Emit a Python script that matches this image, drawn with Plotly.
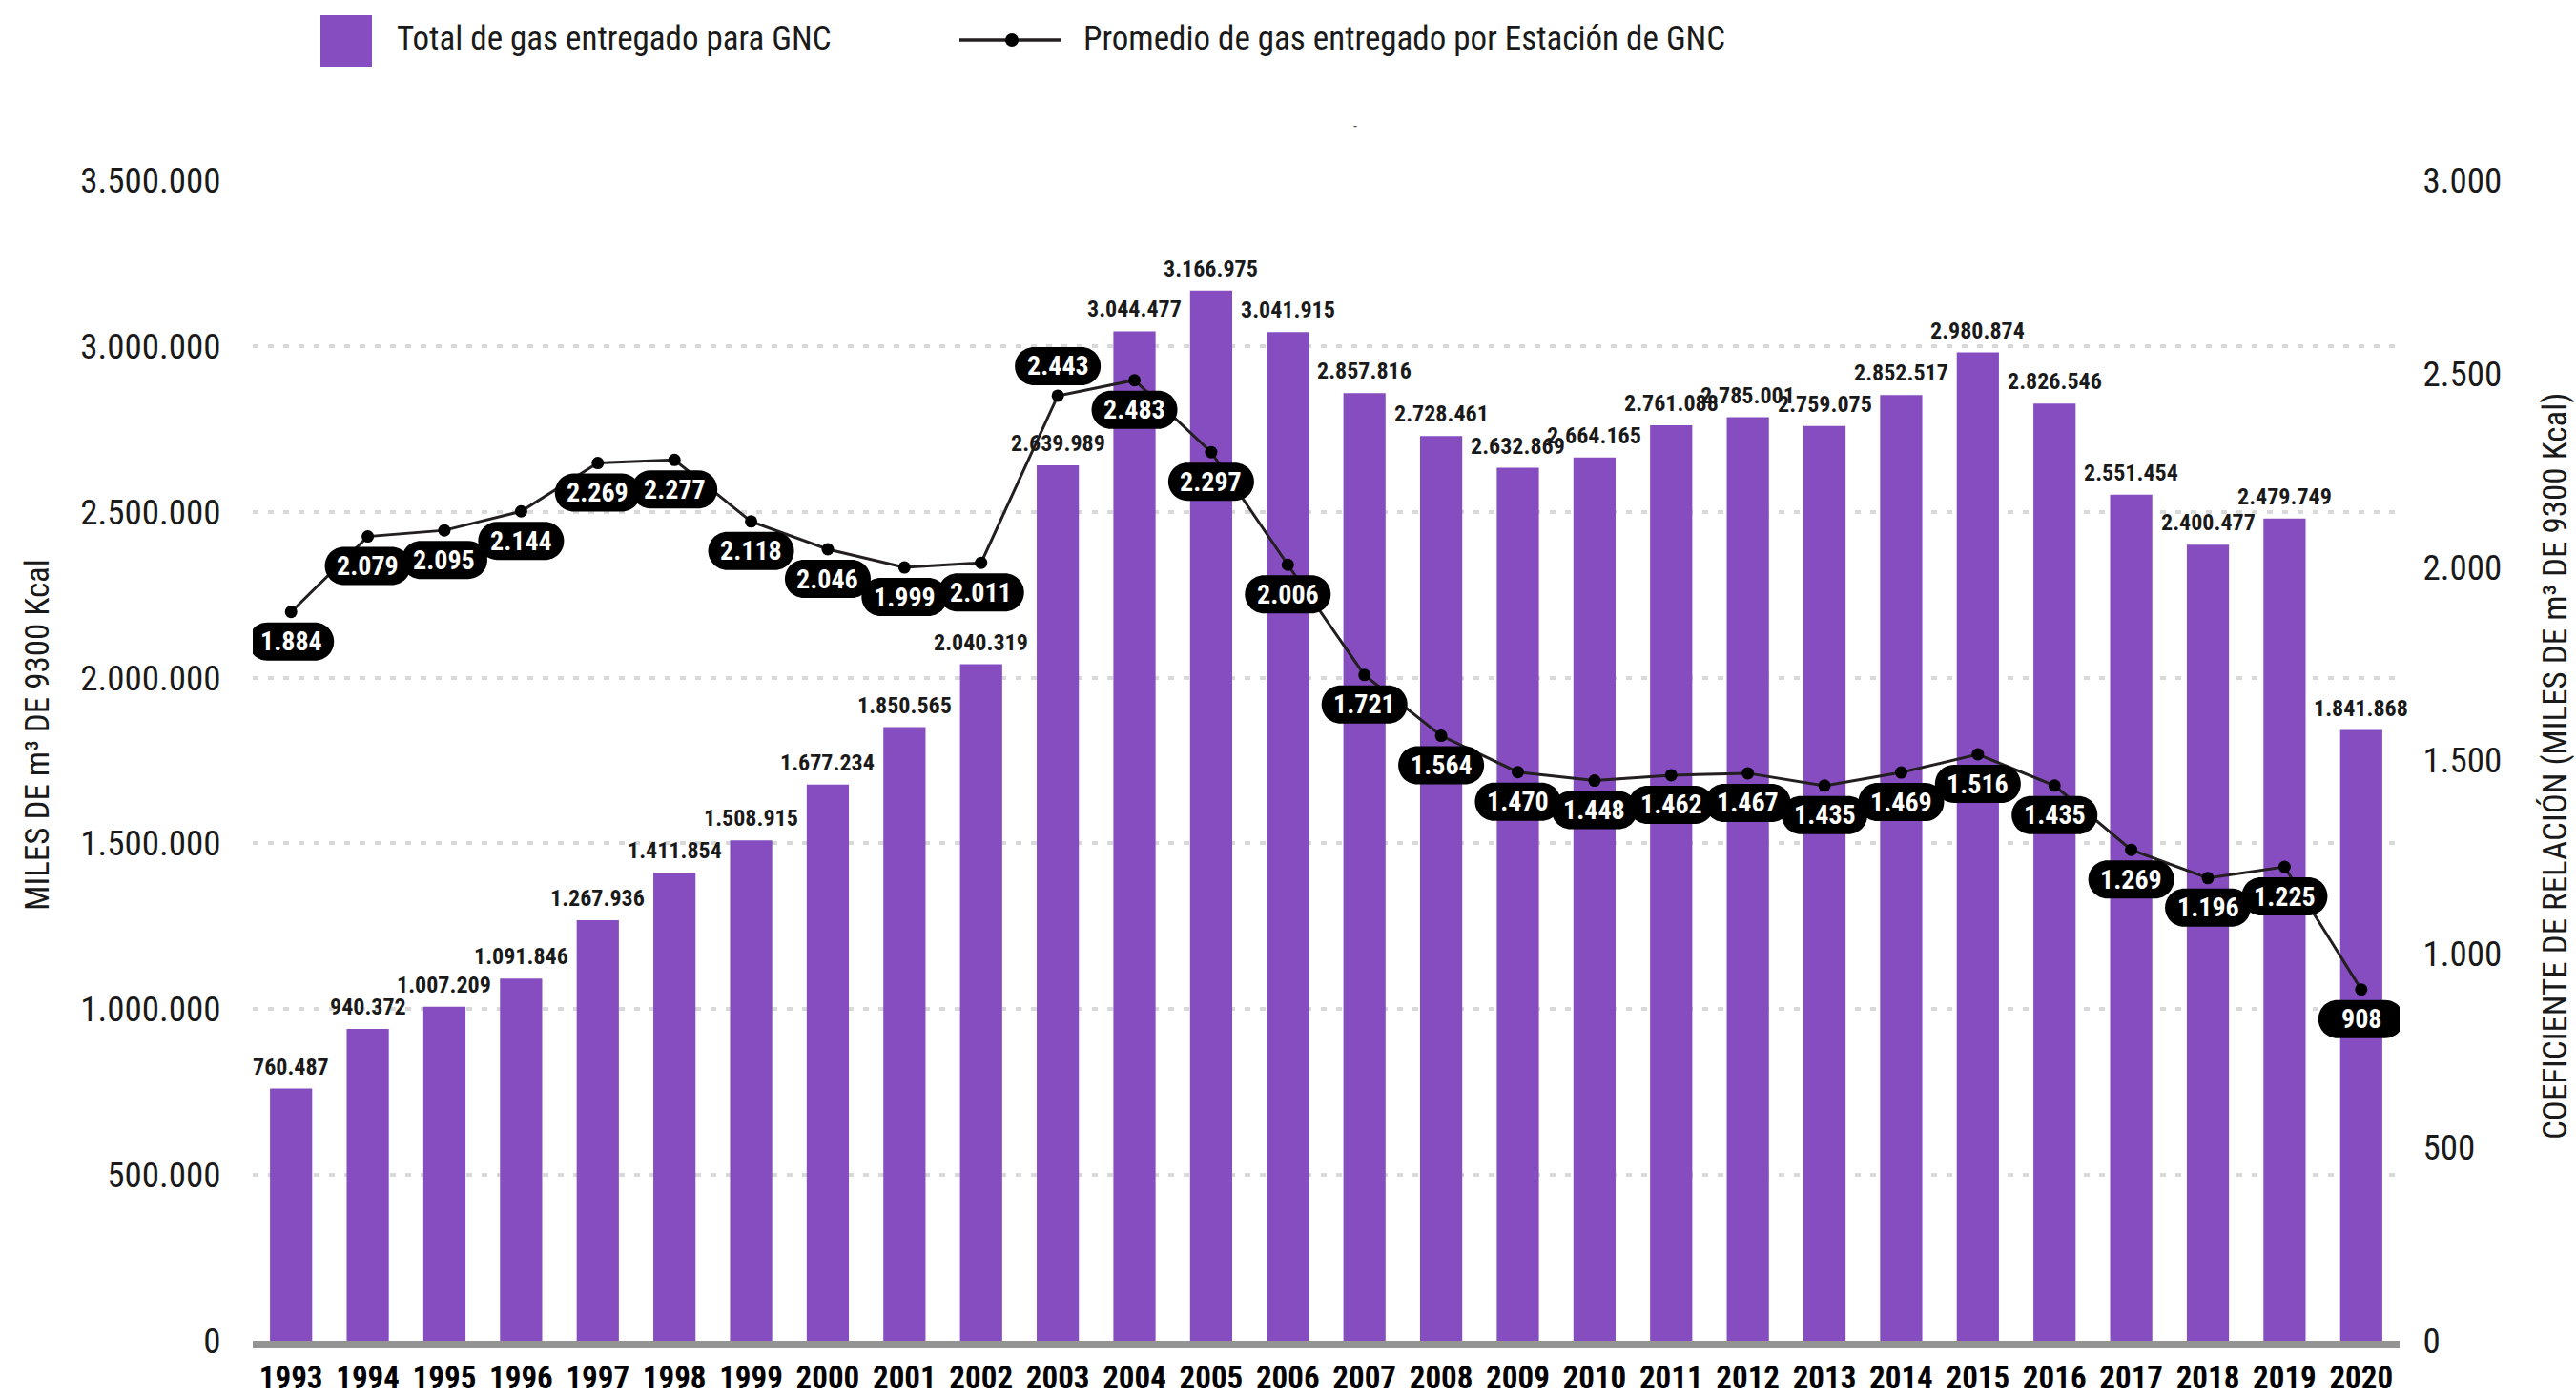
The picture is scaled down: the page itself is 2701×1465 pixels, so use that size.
import plotly.graph_objects as go

# ---------------- data ----------------
years = list(range(1993, 2021))
total_gas = [760487, 940372, 1007209, 1091846, 1267936, 1411854, 1508915, 1677234,
             1850565, 2040319, 2639989, 3044477, 3166975, 3041915, 2857816, 2728461,
             2632869, 2664165, 2761088, 2785001, 2759075, 2852517, 2980874, 2826546,
             2551454, 2400477, 2479749, 1841868]
avg_gas = [1884, 2079, 2095, 2144, 2269, 2277, 2118, 2046, 1999, 2011, 2443, 2483,
           2297, 2006, 1721, 1564, 1470, 1448, 1462, 1467, 1435, 1469, 1516, 1435,
           1269, 1196, 1225, 908]
left_ticks = [0, 500000, 1000000, 1500000, 2000000, 2500000, 3000000, 3500000]
right_ticks = [0, 500, 1000, 1500, 2000, 2500, 3000]
series_names = ["Total de gas entregado para GNC",
                "Promedio de gas entregado por Estación de GNC"]
left_title = "MILES DE m³ DE 9300 Kcal"
right_title = "COEFICIENTE DE RELACIÓN (MILES DE m³ DE 9300 Kcal)"

# ---------------- style ----------------
W, H = 2701, 1465
ML, MR, MT, MB = 265, 185, 189, 59
PW, PH = W - ML - MR, H - MT - MB
PURPLE = "#864dc1"
LINE = "#231f20"
COND = "Roboto, sans-serif"   # rendered condensed via font-stretch (see post script)
TXT = "#1a1a1a"
label_side = [-1] * len(years)
label_side[years.index(2003)] = 1
PILL_W, PILL_H, PILL_OFF = 90, 40, 31


def fmt(v):
    return f"{v:,}".replace(",", ".")


def px_x(x):
    return (x - ML) / PW


def px_y(y):
    return (H - MB - y) / PH


def pill_path(cy, w=PILL_W, h=PILL_H):
    r = h / 2
    k = 0.5523 * r
    l, rt = -w / 2, w / 2
    top, bot = cy + r, cy - r
    p = [
        f"M{l + r},{top}", f"L{rt - r},{top}",
        f"C{rt - r + k},{top} {rt},{cy + k} {rt},{cy}",
        f"C{rt},{cy - k} {rt - r + k},{bot} {rt - r},{bot}",
        f"L{l + r},{bot}",
        f"C{l + r - k},{bot} {l},{cy - k} {l},{cy}",
        f"C{l},{cy + k} {l + r - k},{top} {l + r},{top}", "Z",
    ]
    return " ".join(p)


fig = go.Figure()
fig.add_trace(go.Bar(x=years, y=total_gas, name=series_names[0], marker_color=PURPLE,
                     marker_line_width=0, width=0.55, showlegend=False))
fig.add_trace(go.Scatter(x=years, y=avg_gas, name=series_names[1], yaxis="y2",
                         mode="lines+markers", line=dict(color=LINE, width=3),
                         marker=dict(size=13, color="#000"), showlegend=False))

shapes = []
annotations = []

for x, v in zip(years, total_gas):
    annotations.append(dict(x=x, y=v, xref="x", yref="y", text=fmt(v), showarrow=False,
                            yanchor="middle", yshift=23,
                            font=dict(family=COND, size=24, color=TXT, weight=700)))

for x, v, s in zip(years, avg_gas, label_side):
    shapes.append(dict(type="path", xref="x", yref="y2", xsizemode="pixel", ysizemode="pixel",
                       xanchor=x, yanchor=v, path=pill_path(s * PILL_OFF),
                       fillcolor="#000", line=dict(width=0), layer="above"))
    annotations.append(dict(x=x, y=v, xref="x", yref="y2", text=fmt(v), showarrow=False,
                            yanchor="middle", yshift=s * PILL_OFF,
                            font=dict(family=COND, size=28, color="#fff", weight=700)))

# custom legend
shapes.append(dict(type="rect", xref="paper", yref="paper", x0=px_x(336), x1=px_x(390),
                   y0=px_y(70), y1=px_y(16), fillcolor=PURPLE, line=dict(width=0)))
annotations.append(dict(xref="paper", yref="paper", x=px_x(414), y=px_y(41), xanchor="left",
                        yanchor="middle", text=series_names[0], showarrow=False,
                        font=dict(family=COND, size=35, color=TXT)))
shapes.append(dict(type="line", xref="paper", yref="paper", x0=px_x(1006), x1=px_x(1113),
                   y0=px_y(42), y1=px_y(42), line=dict(color=LINE, width=3.5)))
shapes.append(dict(type="circle", xref="paper", yref="paper", x0=px_x(1054), x1=px_x(1068),
                   y0=px_y(49), y1=px_y(35), fillcolor="#000", line=dict(width=0)))
annotations.append(dict(xref="paper", yref="paper", x=px_x(1134), y=px_y(41), xanchor="left",
                        yanchor="middle", text=series_names[1], showarrow=False,
                        font=dict(family=COND, size=35, color=TXT)))
annotations.append(dict(xref="paper", yref="paper", x=px_x(1421), y=px_y(132), xanchor="center",
                        yanchor="middle", text="-", showarrow=False,
                        font=dict(family=COND, size=16, color="#555")))

annotations.append(dict(xref="paper", yref="paper", x=px_x(40), y=px_y(771), textangle=-90,
                        text=left_title, showarrow=False, xanchor="center", yanchor="middle",
                        font=dict(family=COND, size=35, color=TXT)))
annotations.append(dict(xref="paper", yref="paper", x=px_x(2679), y=px_y(804), textangle=-90,
                        text=right_title, showarrow=False, xanchor="center", yanchor="middle",
                        font=dict(family=COND, size=35, color=TXT)))

fig.update_layout(
    width=W, height=H,
    margin=dict(l=ML, r=MR, t=MT, b=MB, pad=0),
    paper_bgcolor="#fff", plot_bgcolor="#fff",
    showlegend=False,
    bargap=0.45,
    xaxis=dict(range=[1992.5, 2020.5], tickmode="array", tickvals=years, automargin=False,
               ticktext=[str(y) for y in years], showgrid=False, zeroline=False,
               showline=True, linecolor="#949494", linewidth=8, tickangle=0,
               ticks="outside", ticklen=2, tickcolor="rgba(0,0,0,0)",
               tickfont=dict(family=COND, size=33, color="#000", weight=700)),
    yaxis=dict(range=[0, 3500000], tickmode="array", tickvals=left_ticks, automargin=False,
               ticktext=[fmt(v) for v in left_ticks], showgrid=True, gridcolor="#d9d9d9",
               gridwidth=4, griddash="6px,10px", zeroline=False, showline=False,
               ticks="outside", ticklen=25, tickcolor="rgba(0,0,0,0)",
               tickfont=dict(family=COND, size=37, color=TXT)),
    yaxis2=dict(range=[0, 3000], overlaying="y", side="right", tickmode="array",
                tickvals=right_ticks, ticktext=[fmt(v) for v in right_ticks], automargin=False,
                showgrid=False, zeroline=False, showline=False,
                ticks="outside", ticklen=16, tickcolor="rgba(0,0,0,0)",
                tickfont=dict(family=COND, size=37, color=TXT)),
    shapes=shapes,
    annotations=annotations,
)

# Roboto is a variable font: render every text at its condensed width (like Roboto Condensed).
# Re-plot with an equivalent font list so plotly re-measures the condensed texts.
post = (
    "document.body.style.margin='0px';"
    "var st=document.createElement('style');"
    "st.innerHTML='svg text{font-stretch:75% !important;}';"
    "document.head.appendChild(st);"
    "var gd=document.getElementById('{plot_id}');"
    "var lay=JSON.parse(JSON.stringify(gd.layout).split('Roboto, sans-serif')"
    ".join('Roboto, Liberation Sans, sans-serif'));"
    "var dat=JSON.parse(JSON.stringify(gd.data));"
    "Plotly.purge(gd);"
    "return Plotly.newPlot(gd, dat, lay, {displayModeBar:false});"
)
fig.write_html("out.html", post_script=post, config={"displayModeBar": False})
